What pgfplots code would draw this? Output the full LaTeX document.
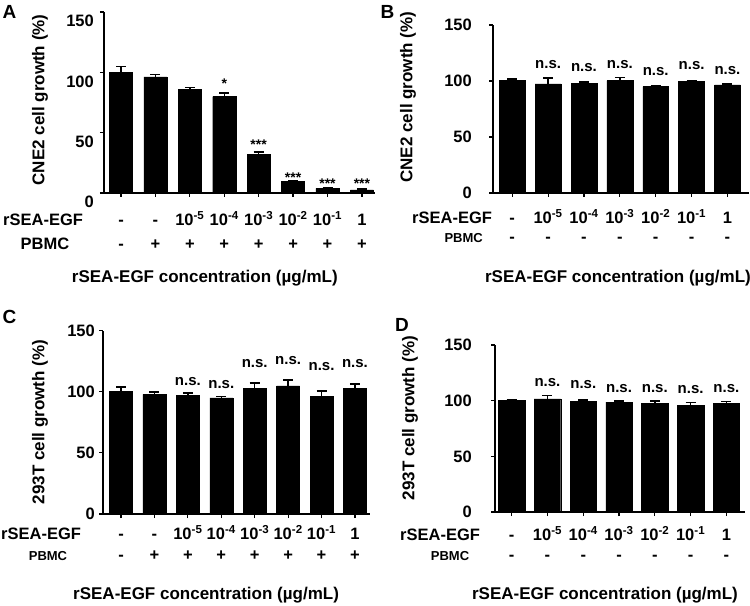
\documentclass[border=0pt]{standalone}
\usepackage{fontspec}
\setmainfont{Liberation Sans}
\usepackage{pgfplots}
\pgfplotsset{compat=1.18}
\newcommand{\fT}{\bfseries\fontsize{16.5bp}{18bp}\selectfont}
\newcommand{\fL}{\bfseries\fontsize{17bp}{19bp}\selectfont}
\newcommand{\fS}{\bfseries\fontsize{14bp}{16bp}\selectfont}
\newcommand{\fN}{\bfseries\fontsize{15bp}{17bp}\selectfont}
\newcommand{\fP}{\bfseries\fontsize{13bp}{15bp}\selectfont}
\newcommand{\fH}{\bfseries\fontsize{19bp}{21bp}\selectfont}
\newcommand{\e}[1]{10\textsuperscript{#1}}
\pgfplotsset{
  panel/.style={scale only axis, axis lines=left,
    axis line style={-, line width=1.2bp, black},
    tick align=outside, major tick length=4bp,
    tick style={line width=1.2bp, black},
    ymin=0, ymax=150, ytick={0,50,100,150},
    xticklabels={}, clip=false,
    /pgf/number format/assume math mode=true,
    yticklabel style={font=\fT, inner sep=0pt},
    xlabel style={font=\fL, anchor=base},
    ylabel style={font=\fL, anchor=center}},
  bars/.style={ybar, fill=black, draw=black, bar width=#1,
    error bars/.cd, y dir=plus, y explicit,
    error bar style={line width=1.5bp, black},
    error mark options={rotate=90, mark size=5bp, line width=1.5bp, black}},
  lab/.style 2 args={draw=none, mark=none, nodes near coords,
    point meta=explicit symbolic,
    every node near coord/.append style={font=#1, inner sep=0pt, yshift=#2}},
}
\begin{document}
\begin{tikzpicture}
\path[use as bounding box] (0,0) rectangle (750bp,606bp);

% ---------------- Panel A ----------------
\begin{axis}[panel, at={(104bp,413bp)}, anchor=south west,
  width=271bp, height=181bp, xmin=-0.494, xmax=7.38, xtick={0,...,7},
  yticklabel style={xshift=-6bp, yshift=-9bp},
  xlabel={rSEA-EGF concentration (µg/mL)},
  xlabel style={at={(axis description cs:0.372,-0.497)}},
  ylabel={CNE2 cell growth (\%)},
  ylabel style={at={(axis description cs:-0.236,0.514)}}]
\addplot[bars=0.67] coordinates {(0,100) +- (0,5) (1,96.2) +- (0,2.2) (2,85.7) +- (0,1.9) (3,79.9) +- (0,2.8) (4,31.8) +- (0,2.2) (5,9.4) +- (0,1.1) (6,3.9) +- (0,0.8) (7,2.5) +- (0,0.8)};
\addplot[lab={\fS}{0pt}] coordinates {(3,86.2) [*] (4,35.7) [***] (5,8.3) [***] (6,3.3) [***] (7,3.3) [***]};
\addplot[lab={\fT}{-33bp}] coordinates {(0,0) [-] (1,0) [-] (2,0) [\e{-5}] (3,0) [\e{-4}] (4,0) [\e{-3}] (5,0) [\e{-2}] (6,0) [\e{-1}] (7,0) [1]};
\addplot[lab={\fT}{-57bp}] coordinates {(0,0) [-] (1,0) [+] (2,0) [+] (3,0) [+] (4,0) [+] (5,0) [+] (6,0) [+] (7,0) [+]};
\end{axis}

% ---------------- Panel B ----------------
\begin{axis}[panel, at={(493bp,413bp)}, anchor=south west,
  width=256bp, height=168bp, xmin=-0.536, xmax=6.6, xtick={0,...,6},
  yticklabel style={xshift=-17bp},
  xlabel={rSEA-EGF concentration (µg/mL)},
  xlabel style={at={(axis description cs:0.488,-0.530)}},
  ylabel={CNE2 cell growth (\%)},
  ylabel style={at={(axis description cs:-0.332,0.571)}}]
\addplot[bars=0.72] coordinates {(0,100.5) +- (0,1.5) (1,97.5) +- (0,5) (2,98) +- (0,1) (3,100.3) +- (0,3) (4,95) +- (0,0.6) (5,99.5) +- (0,0.6) (6,96.5) +- (0,0.6)};
\addplot[lab={\fN}{0pt}] coordinates {(1,110.7) [n.s.] (2,108) [n.s.] (3,110.7) [n.s.] (4,104.5) [n.s.] (5,109.8) [n.s.] (6,105.4) [n.s.]};
\addplot[lab={\fT}{-31bp}] coordinates {(0,0) [-] (1,0) [\e{-5}] (2,0) [\e{-4}] (3,0) [\e{-3}] (4,0) [\e{-2}] (5,0) [\e{-1}] (6,0) [1]};
\addplot[lab={\fT}{-50bp}] coordinates {(0,0) [-] (1,0) [-] (2,0) [-] (3,0) [-] (4,0) [-] (5,0) [-] (6,0) [-]};
\end{axis}

% ---------------- Panel C ----------------
\begin{axis}[panel, at={(103bp,92bp)}, anchor=south west,
  width=267bp, height=183.3bp, xmin=-0.54, xmax=7.45, xtick={0,...,7},
  yticklabel style={xshift=-4bp},
  xlabel={rSEA-EGF concentration (µg/mL)},
  xlabel style={at={(axis description cs:0.386,-0.464)}},
  ylabel={293T cell growth (\%)},
  ylabel style={at={(axis description cs:-0.236,0.502)}}]
\addplot[bars=0.69] coordinates {(0,100.3) +- (0,3.5) (1,97.8) +- (0,2.2) (2,97.3) +- (0,1.9) (3,95.1) +- (0,1.1) (4,102.7) +- (0,4.6) (5,104.9) +- (0,4.6) (6,96.2) +- (0,4.6) (7,102.7) +- (0,3.8)};
\addplot[lab={\fN}{0pt}] coordinates {(2,104.7) [n.s.] (3,102.2) [n.s.] (4,119.4) [n.s.] (5,121.8) [n.s.] (6,116.9) [n.s.] (7,119.4) [n.s.]};
\addplot[lab={\fT}{-26bp}] coordinates {(0,0) [-] (1,0) [-] (2,0) [\e{-5}] (3,0) [\e{-4}] (4,0) [\e{-3}] (5,0) [\e{-2}] (6,0) [\e{-1}] (7,0) [1]};
\addplot[lab={\fT}{-47bp}] coordinates {(0,0) [-] (1,0) [+] (2,0) [+] (3,0) [+] (4,0) [+] (5,0) [+] (6,0) [+] (7,0) [+]};
\end{axis}

% ---------------- Panel D ----------------
\begin{axis}[panel, at={(495bp,94bp)}, anchor=south west,
  width=250bp, height=167bp, xmin=-0.466, xmax=6.52, xtick={0,...,6},
  yticklabel style={xshift=-19bp},
  xlabel={rSEA-EGF concentration (µg/mL)},
  xlabel style={at={(axis description cs:0.44,-0.521)}},
  ylabel={293T cell growth (\%)},
  ylabel style={at={(axis description cs:-0.34,0.563)}}]
\addplot[bars=0.74] coordinates {(0,100) +- (0,0.6) (1,101.5) +- (0,3) (2,99.4) +- (0,1) (3,98.8) +- (0,1) (4,97.6) +- (0,2) (5,96.1) +- (0,2.4) (6,97.6) +- (0,1.8)};
\addplot[lab={\fN}{0pt}] coordinates {(1,112.4) [n.s.] (2,110.6) [n.s.] (3,107) [n.s.] (4,107) [n.s.] (5,106.1) [n.s.] (6,107) [n.s.]};
\addplot[lab={\fT}{-29bp}] coordinates {(0,0) [-] (1,0) [\e{-5}] (2,0) [\e{-4}] (3,0) [\e{-3}] (4,0) [\e{-2}] (5,0) [\e{-1}] (6,0) [1]};
\addplot[lab={\fT}{-49bp}] coordinates {(0,0) [-] (1,0) [-] (2,0) [-] (3,0) [-] (4,0) [-] (5,0) [-] (6,0) [-]};
\end{axis}

% row labels and panel letters
\node[font=\fT, anchor=base west, inner sep=0pt] at (3bp,380bp) {rSEA-EGF};
\node[font=\fT, anchor=base, inner sep=0pt] at (45bp,356bp) {PBMC};
\node[font=\fT, anchor=base west, inner sep=0pt] at (412bp,382bp) {rSEA-EGF};
\node[font=\fP, anchor=base east, inner sep=0pt] at (483bp,363bp) {PBMC};
\node[font=\fT, anchor=base west, inner sep=0pt] at (1bp,66bp) {rSEA-EGF};
\node[font=\fP, anchor=base, inner sep=0pt] at (48bp,45bp) {PBMC};
\node[font=\fT, anchor=base west, inner sep=0pt] at (400bp,65bp) {rSEA-EGF};
\node[font=\fP, anchor=base, inner sep=0pt] at (450bp,45bp) {PBMC};
\node[font=\fH, inner sep=0pt] at (9.5bp,594.5bp) {A};
\node[font=\fH, inner sep=0pt] at (387.5bp,594.5bp) {B};
\node[font=\fH, inner sep=0pt] at (9.5bp,289bp) {C};
\node[font=\fH, inner sep=0pt] at (402bp,281bp) {D};
\end{tikzpicture}
\end{document}
